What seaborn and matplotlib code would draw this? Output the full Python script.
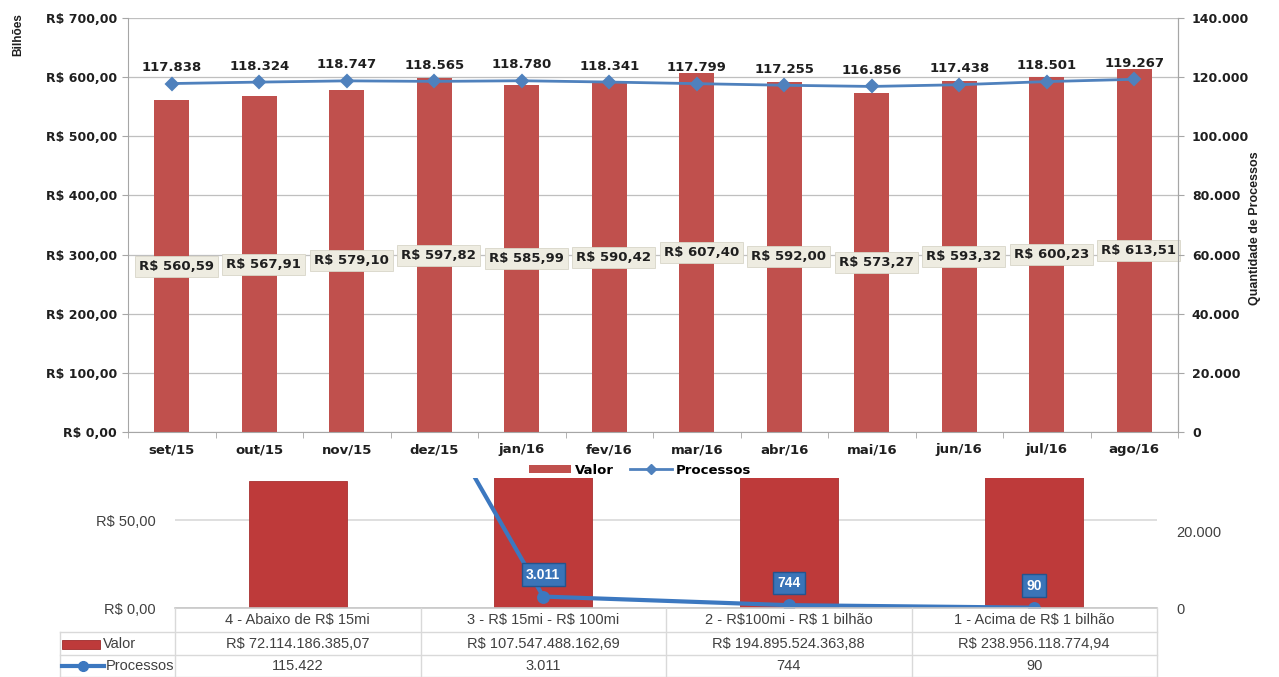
import numpy as np
import pandas as pd
import matplotlib
matplotlib.use("Agg")
import matplotlib.pyplot as plt
import seaborn as sns
from matplotlib.lines import Line2D
from matplotlib.patches import Patch, Rectangle
from matplotlib.ticker import FixedLocator

# ---------------- data ----------------
meses = ["set/15", "out/15", "nov/15", "dez/15", "jan/16", "fev/16",
         "mar/16", "abr/16", "mai/16", "jun/16", "jul/16", "ago/16"]
valor_bilhoes = [560.59, 567.91, 579.10, 597.82, 585.99, 590.42,
                 607.40, 592.00, 573.27, 593.32, 600.23, 613.51]
processos = [117838, 118324, 118747, 118565, 118780, 118341,
             117799, 117255, 116856, 117438, 118501, 119267]

faixas = ["4 - Abaixo de R$ 15mi", "3 - R$ 15mi - R$ 100mi",
          "2 - R$100mi - R$ 1 bilhão", "1 - Acima de R$ 1 bilhão"]
faixa_valor = [72114186385.07, 107547488162.69, 194895524363.88, 238956118774.94]
faixa_processos = [115422, 3011, 744, 90]

left_ticks = [0, 100, 200, 300, 400, 500, 600, 700]
right_ticks = [0, 20000, 40000, 60000, 80000, 100000, 120000, 140000]


def br(v, dec=0):
    s = f"{v:,.{dec}f}"
    return s.replace(",", "#").replace(".", ",").replace("#", ".")


FONT = ["DejaVu Sans"]
NARROW = ["Liberation Sans Narrow", "Liberation Sans", "DejaVu Sans"]
RED = "#C0504D"
BLUE = "#4F81BD"
GRID = "#BFBFBF"
DARK = "#1F1F1F"

plt.rcParams["font.family"] = FONT
plt.rcParams["text.parse_math"] = False

fig = plt.figure(figsize=(12.79, 6.77), dpi=100)
W, H = 1279, 677


def rect(x0, y0, x1, y1):
    return [x0 / W, 1 - y1 / H, (x1 - x0) / W, (y1 - y0) / H]


# ---------------- top chart ----------------
df = pd.DataFrame({"mes": meses, "valor": valor_bilhoes, "processos": processos})
ax = fig.add_axes(rect(128, 18, 1178, 432))
sns.barplot(data=df, x="mes", y="valor", ax=ax, color=RED, width=0.4,
            saturation=1, order=meses, zorder=2)
ax.set_ylim(0, 700)
ax.set_xlim(-0.5, len(meses) - 0.5)
ax.set_yticks(left_ticks)
ax.set_yticklabels([f"R$ {br(t, 2)}" for t in left_ticks], fontsize=9,
                   fontweight="bold", color=DARK)
ax.yaxis.grid(True, color=GRID, lw=0.9, zorder=0)
ax.set_axisbelow(True)
ax.set_xlabel("")
ax.set_ylabel("")
ax.tick_params(axis="x", length=0, pad=8)
for lab in ax.get_xticklabels():
    lab.set_fontsize(9.5)
    lab.set_fontweight("bold")
    lab.set_color(DARK)
ax.xaxis.set_minor_locator(FixedLocator(np.arange(len(meses) + 1) - 0.5))
ax.tick_params(axis="x", which="minor", length=4, color="#A6A6A6")
ax.tick_params(axis="y", length=4, color="#A6A6A6", pad=4)
ax.spines["top"].set_visible(False)
for s in ["left", "bottom", "right"]:
    ax.spines[s].set_color("#A6A6A6")

# value labels centred in the bars
for i, v in enumerate(valor_bilhoes):
    ax.text(i + 0.05, v / 2, f"R$ {br(v, 2)}", ha="center", va="center",
            fontsize=9.5, fontweight="bold", color=DARK, zorder=5,
            bbox=dict(boxstyle="square,pad=0.3", fc="#EEECE1", ec="#D8D5C8", lw=0.6))

ax2 = ax.twinx()
sns.pointplot(data=df, x="mes", y="processos", ax=ax2, order=meses,
              color=BLUE, markers="D", markersize=6, linewidth=2)
ax2.set_ylim(0, 140000)
ax2.set_xlim(-0.5, len(meses) - 0.5)
ax2.set_yticks(right_ticks)
ax2.set_yticklabels([br(t) for t in right_ticks], fontsize=9, fontweight="bold", color=DARK)
ax2.tick_params(axis="y", length=4, color="#A6A6A6", pad=6)
ax2.set_xlabel("")
ax2.set_ylabel("")
for s in ["top", "left", "bottom"]:
    ax2.spines[s].set_visible(False)
ax2.spines["right"].set_color("#A6A6A6")
for i, p in enumerate(processos):
    ax2.annotate(br(p), (i, p), xytext=(0, 16), textcoords="offset pixels",
                 ha="center", va="center", fontsize=9.5, fontweight="bold", color=DARK)

fig.text(18 / W, 1 - 35 / H, "Bilhões", rotation=90, ha="center", va="center",
         fontsize=8.5, fontweight="bold", family=NARROW, color=DARK)
fig.text(1255 / W, 1 - 228 / H, "Quantidade de Processos", rotation=90, ha="center",
         va="center", fontsize=9, fontweight="bold", family=NARROW, color=DARK)

handles = [Patch(facecolor=RED, edgecolor="none", label="Valor"),
           Line2D([0], [0], color=BLUE, lw=2, marker="D", markersize=5, label="Processos")]
fig.legend(handles=handles, loc="center", bbox_to_anchor=(640 / W, 1 - 470 / H), ncol=2,
           frameon=False, handlelength=3.2, handleheight=0.6,
           columnspacing=1.2, handletextpad=0.3, prop={"weight": "bold", "size": 9.5})

# ---------------- bottom chart ----------------
BRED = "#BE3A3A"
BBLUE = "#3C78C0"
GRAY_TXT = "#404040"
df2 = pd.DataFrame({"faixa": faixas, "valor": np.array(faixa_valor) / 1e9,
                    "processos": faixa_processos})
ax3 = fig.add_axes(rect(175, 478, 1157, 608))
sns.barplot(data=df2, x="faixa", y="valor", ax=ax3, order=faixas, color=BRED,
            width=0.4, saturation=1, edgecolor="#A83030", linewidth=0.6, zorder=2)
ax3.set_ylim(0, 74)
ax3.set_xlim(-0.5, len(faixas) - 0.5)
ax3.set_yticks([0, 50])
ax3.set_yticklabels([f"R$ {br(t, 2)}" for t in [0, 50]], fontsize=10.5,
                    family=NARROW, color=GRAY_TXT)
ax3.tick_params(axis="y", length=0, pad=14)
ax3.set_xticks([])
ax3.set_xlabel("")
ax3.set_ylabel("")
ax3.yaxis.grid(True, color="#D9D9D9", lw=1.2, zorder=0)
ax3.set_axisbelow(True)
for s in ax3.spines.values():
    s.set_visible(False)

ax4 = ax3.twinx()
sns.pointplot(data=df2, x="faixa", y="processos", ax=ax4, order=faixas,
              color=BBLUE, markers="o", markersize=7, linewidth=3)
ax4.set_ylim(0, 34200)
ax4.set_xlim(-0.5, len(faixas) - 0.5)
ax4.set_yticks([0, 20000])
ax4.set_yticklabels([br(t) for t in [0, 20000]], fontsize=10.5, family=NARROW, color=GRAY_TXT)
ax4.tick_params(axis="y", length=0, pad=14)
ax4.set_xticks([])
ax4.set_xlabel("")
ax4.set_ylabel("")
for s in ax4.spines.values():
    s.set_visible(False)
for i, p in enumerate(faixa_processos):
    t = ax4.annotate(br(p), (i, p), xytext=(0, 22), textcoords="offset pixels",
                     ha="center", va="center", fontsize=10, family=NARROW,
                     color="white", fontweight="bold", annotation_clip=True,
                     bbox=dict(boxstyle="square,pad=0.3", fc="#3A74B8", ec="#24548E", lw=1))
    t.set_clip_on(True)

# ---------------- data table ----------------
tab = fig.add_axes([0, 0, 1, 1], facecolor="none")
tab.set_xlim(0, W)
tab.set_ylim(H, 0)
tab.axis("off")
x0, x1, xl = 175, 1157, 60
rows = [608, 632, 655, 677]
n = len(faixas)
colw = (x1 - x0) / n
lc = "#D9D9D9"
tab.plot([x0, x1], [rows[0], rows[0]], color="#C8C8C8", lw=1.2)
for y in rows[1:]:
    tab.plot([xl, x1], [y, y], color=lc, lw=1)
for k in range(n + 1):
    tab.plot([x0 + k * colw] * 2, [rows[0], rows[3]], color=lc, lw=1)
tab.plot([xl, xl], [rows[1], rows[3]], color=lc, lw=1)

for k in range(n):
    cx = x0 + (k + 0.5) * colw
    tab.text(cx, (rows[0] + rows[1]) / 2, faixas[k], ha="center", va="center",
             fontsize=10.5, family=NARROW, color=GRAY_TXT)
    tab.text(cx, (rows[1] + rows[2]) / 2, f"R$ {br(faixa_valor[k], 2)}", ha="center",
             va="center", fontsize=10.5, family=NARROW, color=GRAY_TXT)
    tab.text(cx, (rows[2] + rows[3]) / 2, br(faixa_processos[k]), ha="center",
             va="center", fontsize=10.5, family=NARROW, color=GRAY_TXT)

# legend keys in the table
ym = (rows[1] + rows[2]) / 2
tab.add_patch(Rectangle((62, ym - 4), 38, 9, facecolor=BRED, edgecolor="#9E2A2A", lw=0.6))
tab.text(103, ym, "Valor", ha="left", va="center", fontsize=10.5, family=NARROW, color=GRAY_TXT)
yp = (rows[2] + rows[3]) / 2
tab.plot([62, 104], [yp, yp], color=BBLUE, lw=3)
tab.plot([83], [yp], marker="o", color=BBLUE, markersize=7)
tab.text(106, yp, "Processos", ha="left", va="center", fontsize=10.5, family=NARROW,
         color=GRAY_TXT)

fig.savefig("out.png", dpi=100)
